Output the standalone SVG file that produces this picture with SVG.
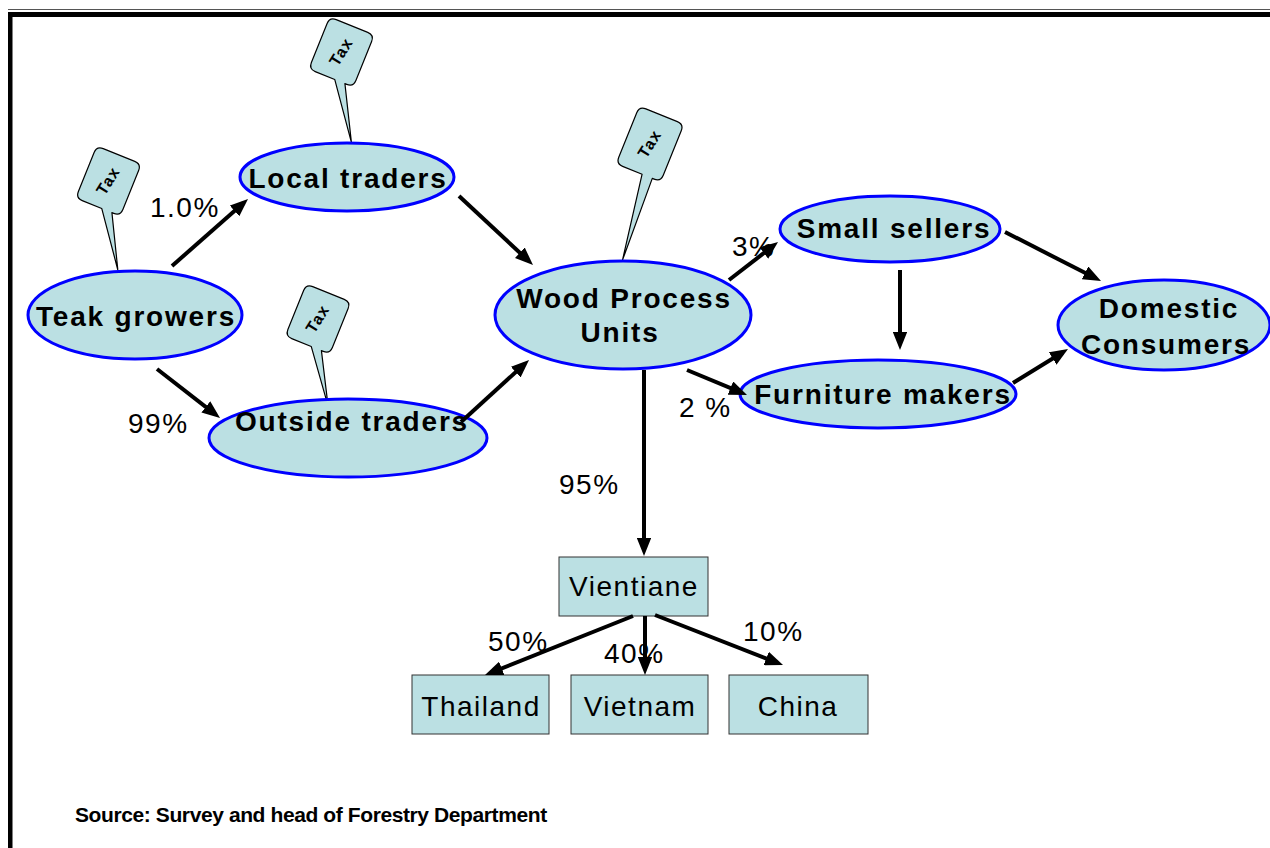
<svg xmlns="http://www.w3.org/2000/svg" width="1270" height="848" viewBox="0 0 1270 848">
<defs>
<marker id="ah" viewBox="0 0 4.5 3.6" refX="3" refY="1.8" markerWidth="4.5" markerHeight="3.6" orient="auto" markerUnits="strokeWidth">
<path d="M0,0 L4.5,1.8 L0,3.6 Z" fill="#000"/>
</marker>
</defs>
<style>
.ell{fill:#BBE0E3;stroke:#0000FF;stroke-width:3}
.box{fill:#BBE0E3;stroke:#333;stroke-width:1}
.call{fill:#BBE0E3;stroke:#000;stroke-width:1.2;stroke-linejoin:round}
.lbl{font-family:"Liberation Sans",Arial,sans-serif;font-weight:bold;font-size:28px;letter-spacing:1.8px;fill:#000;text-anchor:middle}
.reg{font-family:"Liberation Sans",Arial,sans-serif;font-size:28px;letter-spacing:1.5px;fill:#000}
.tax{font-family:"Liberation Sans",Arial,sans-serif;font-weight:bold;font-size:16px;letter-spacing:1.2px;fill:#000;text-anchor:middle}
.src{font-family:"Liberation Sans",Arial,sans-serif;font-weight:bold;font-size:21px;letter-spacing:-0.4px;fill:#000}
.con{stroke:#000;stroke-width:4;fill:none;marker-end:url(#ah)}
</style>
<rect x="0" y="0" width="1270" height="848" fill="#fff"/>
<!-- frame -->
<line x1="8" y1="9.5" x2="1270" y2="9.5" stroke="#555" stroke-width="1.2"/>
<rect x="8" y="12" width="1262" height="5" fill="#000"/>
<rect x="8" y="12" width="4.5" height="836" fill="#000"/>

<!-- tax callouts -->
<g id="tax1" transform="translate(108.5,181) rotate(22)">
<path class="call" d="M -17,-28 H 17 Q 24,-28 24,-21 V 21 Q 24,28 17,28 H 15 L 42,79 L 4,28 H -17 Q -24,28 -24,21 V -21 Q -24,-28 -17,-28 Z"/>
<text class="tax" transform="rotate(-80)" x="0" y="5">Tax</text>
</g>
<g id="tax2" transform="translate(341.5,52) rotate(22)">
<path class="call" d="M -17,-28 H 17 Q 24,-28 24,-21 V 21 Q 24,28 17,28 H 15 L 43,80 L 4,28 H -17 Q -24,28 -24,21 V -21 Q -24,-28 -17,-28 Z"/>
<text class="tax" transform="rotate(-80)" x="0" y="5">Tax</text>
</g>
<g id="tax3" transform="translate(318,319) rotate(22)">
<path class="call" d="M -17,-28 H 17 Q 24,-28 24,-21 V 21 Q 24,28 17,28 H 15 L 42,77 L 4,28 H -17 Q -24,28 -24,21 V -21 Q -24,-28 -17,-28 Z"/>
<text class="tax" transform="rotate(-80)" x="0" y="5">Tax</text>
</g>
<g id="tax4" transform="translate(650,144) rotate(22)">
<path class="call" d="M -17,-31 H 17 Q 24,-31 24,-24 V 24 Q 24,31 17,31 H 15 L 18,118 L 4,31 H -17 Q -24,31 -24,24 V -24 Q -24,-31 -17,-31 Z"/>
<text class="tax" transform="rotate(-80)" x="0" y="5">Tax</text>
</g>

<!-- nodes -->
<g id="teak">
<ellipse class="ell" cx="135" cy="315" rx="107" ry="44"/>
<text class="lbl" x="136" y="326">Teak growers</text>
</g>
<g id="local">
<ellipse class="ell" cx="347" cy="177" rx="107" ry="34"/>
<text class="lbl" x="348" y="188">Local traders</text>
</g>
<g id="outside">
<ellipse class="ell" cx="348" cy="438" rx="139" ry="39"/>
<text class="lbl" x="352" y="431">Outside traders</text>
</g>
<g id="wood">
<ellipse class="ell" cx="623" cy="315" rx="128" ry="54"/>
<text class="lbl" x="624" y="308">Wood Process</text>
<text class="lbl" x="620" y="342">Units</text>
</g>
<g id="small">
<ellipse class="ell" cx="890" cy="229" rx="110" ry="33"/>
<text class="lbl" x="894" y="238">Small sellers</text>
</g>
<g id="furniture">
<ellipse class="ell" cx="878" cy="394" rx="138" ry="34"/>
<text class="lbl" x="883" y="404">Furniture makers</text>
</g>
<g id="domestic">
<ellipse class="ell" cx="1164" cy="325" rx="106" ry="45"/>
<text class="lbl" x="1169" y="318">Domestic</text>
<text class="lbl" x="1166" y="354">Consumers</text>
</g>
<g id="vientiane">
<rect class="box" x="559" y="557" width="149" height="59"/>
<text class="reg" x="634" y="596" text-anchor="middle">Vientiane</text>
</g>
<g id="thailand">
<rect class="box" x="412" y="675" width="137" height="59"/>
<text class="reg" x="481" y="716" text-anchor="middle">Thailand</text>
</g>
<g id="vietnam">
<rect class="box" x="571" y="675" width="137" height="59"/>
<text class="reg" x="640" y="716" text-anchor="middle">Vietnam</text>
</g>
<g id="china">
<rect class="box" x="729" y="675" width="139" height="59"/>
<text class="reg" x="798" y="716" text-anchor="middle">China</text>
</g>

<!-- connectors -->
<g id="connectors">
<line class="con" x1="172" y1="266" x2="243.5" y2="203"/>
<line class="con" x1="157" y1="369" x2="215.3" y2="414.3"/>
<line class="con" x1="459" y1="196" x2="528.6" y2="260.9"/>
<line class="con" x1="461" y1="422" x2="524.6" y2="364"/>
<line class="con" x1="729" y1="280" x2="773.3" y2="245.7"/>
<line class="con" x1="687" y1="370" x2="741.5" y2="392.7"/>
<line class="con" x1="900" y1="270" x2="900" y2="344"/>
<line class="con" x1="1005" y1="232" x2="1095.7" y2="278.3"/>
<line class="con" x1="1013" y1="383" x2="1062.9" y2="352.2"/>
<line class="con" x1="644" y1="370" x2="644" y2="550"/>
<line class="con" x1="633" y1="616" x2="490.6" y2="672.8"/>
<line class="con" x1="645" y1="616" x2="645" y2="669"/>
<line class="con" x1="655" y1="615" x2="777.4" y2="662.8"/>
</g>

<!-- labels -->
<text class="reg" x="150" y="217">1.0%</text>
<text class="reg" x="128" y="433">99%</text>
<text class="reg" x="732" y="256">3%</text>
<text class="reg" x="679" y="417">2 %</text>
<text class="reg" x="559" y="494">95%</text>
<text class="reg" x="488" y="651">50%</text>
<text class="reg" x="604" y="663">40%</text>
<text class="reg" x="743" y="641">10%</text>
<text class="src" x="75" y="822">Source: Survey and head of Forestry Department</text>
</svg>
